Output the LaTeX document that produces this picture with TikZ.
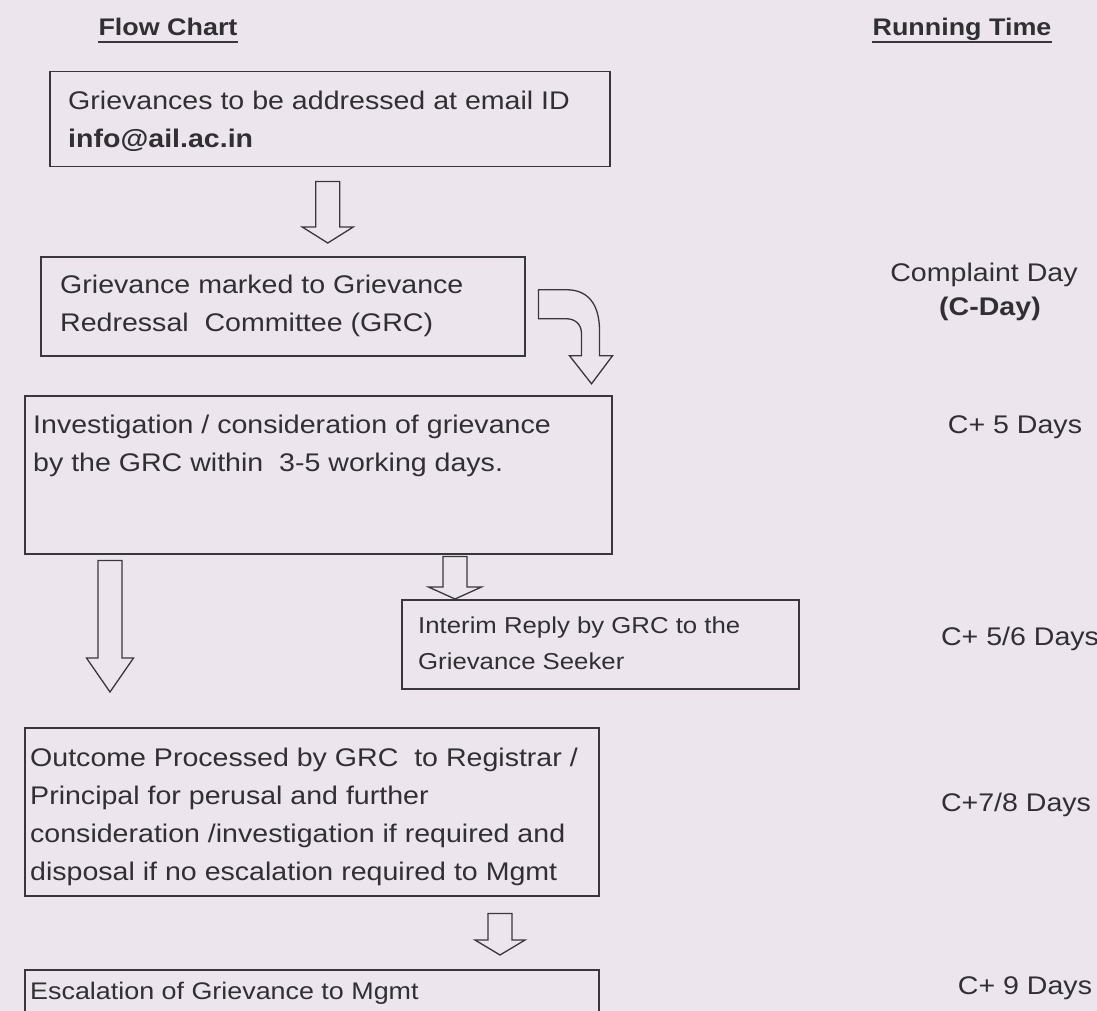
\documentclass[tikz,border=0pt]{standalone}
\usepackage{fontspec}
\setmainfont{Liberation Sans}[FakeStretch=1.12]
\usetikzlibrary{calc}
\definecolor{paper}{RGB}{236,229,237}
\definecolor{ink}{RGB}{58,55,60}
\definecolor{txtc}{RGB}{50,47,52}
\newcommand{\blockdown}[5]{\draw[arrowline] let \p1=(#1), \p2=(#2) in
  (\x1-#3,\y1) -- (\x1-#3,\y2+#5) -- (\x1-#4,\y2+#5) -- (\x1,\y2) --
  (\x1+#4,\y2+#5) -- (\x1+#3,\y2+#5) -- (\x1+#3,\y1) -- cycle;}
\begin{document}
\begin{tikzpicture}[x=1pt,y=-1pt,
  box/.style={draw=ink, line width=1.5pt, anchor=north west, inner sep=0pt},
  arrowline/.style={draw=ink, line width=1.3pt, line join=miter},
  txt/.style={text=txtc, anchor=base west, align=left, inner sep=0pt,
    font=\fontsize{25.5}{38}\selectfont},
  small/.style={txt, font=\fontsize{23}{36}\selectfont},
  rtxt/.style={text=txtc, anchor=base, inner sep=0pt, font=\fontsize{25.5}{34}\selectfont},
  title/.style={text=txtc, anchor=base, inner sep=0pt, font=\fontsize{24}{30}\selectfont\bfseries}]
\useasboundingbox (0,0) rectangle (1097,1011);
\clip (0,0) rectangle (1097,1011);
\fill[paper] (0,0) rectangle (1097,1011);

% titles
\node[title] (tflow) at (168,36) {Flow Chart};
\node[title] (trun) at (962,36) {Running Time};
\draw[ink, line width=2pt] ($(tflow.base west)+(0,6)$) -- ($(tflow.base east)+(0,6)$);
\draw[ink, line width=2pt] ($(trun.base west)+(0,6)$) -- ($(trun.base east)+(0,6)$);

% boxes
\node[box, minimum width=560pt, minimum height=95pt] (b1) at (49,71) {};
\node[box, minimum width=484pt, minimum height=99pt] (b2) at (40,256) {};
\node[box, minimum width=587pt, minimum height=158pt] (b3) at (24,395) {};
\node[box, minimum width=397pt, minimum height=89pt] (b4) at (401,599) {};
\node[box, minimum width=574pt, minimum height=168pt] (b5) at (24,727) {};
\node[box, minimum width=574pt, minimum height=80pt] (b6) at (24,969) {};

% box texts (anchor = baseline of the last line)
\node[txt] (x1) at (68,148) {Grievances to be addressed at email ID\\\textbf{info@ail.ac.in}};
\node[txt] (x2) at (60,331) {Grievance marked to Grievance\\Redressal\ \ Committee (GRC)};
\node[txt] (x3) at (33,471) {Investigation / consideration of grievance\\by the GRC within\ \ 3-5 working days.};
\node[small] (x4) at (418,669) {Interim Reply by GRC to the\\Grievance Seeker};
\node[txt, font=\fontsize{25.5}{37.7}\selectfont] (x5) at (30,880) {Outcome Processed by GRC\ \ to Registrar /\\Principal for perusal and further\\consideration /investigation if required and\\disposal if no escalation required to Mgmt};
\node[txt, font=\fontsize{24}{36}\selectfont] (x6) at (30,999) {Escalation of Grievance to Mgmt};

% running time
\node[rtxt] (r1) at (984,281) {Complaint Day};
\node[rtxt, font=\fontsize{25.5}{34}\selectfont\bfseries] (r1b) at (990,315) {(C-Day)};
\node[rtxt] (r2) at (1015,433) {C+ 5 Days};
\node[rtxt] (r3) at (1020,645) {C+ 5/6 Days};
\node[rtxt] (r4) at (1016,811) {C+7/8 Days};
\node[rtxt] (r5) at (1025,994) {C+ 9 Days};

% connectors (hollow block arrows)
\coordinate (a1s) at ($(b1.south)+(-2,14)$);
\coordinate (a1e) at ($(a1s |- b2.north)+(0,-13)$);
\blockdown{a1s}{a1e}{12pt}{25.5pt}{16pt}

\coordinate (cs) at ($(b2.east)+(13,-16.5)$);
\draw[arrowline] (cs) -- ++(28,0) .. controls +(22,0) and +(0,-26) .. ++(33,41)
  -- ++(0,25) -- ++(13,0) -- ++(-21,28) -- ++(-22,-28) -- ++(12,0) -- ++(0,-22)
  .. controls +(0,-10) and +(8,0) .. ++(-15,-15) -- ++(-28,0) -- cycle;

\coordinate (a2s) at ($(b3.south west)+(86,6)$);
\coordinate (a2e) at ($(a2s |- b5.north)+(0,-35)$);
\blockdown{a2s}{a2e}{12pt}{23.5pt}{34pt}

\coordinate (a3s) at ($(b3.south west)+(431,2)$);
\coordinate (a3e) at (a3s |- b4.north);
\blockdown{a3s}{a3e}{12pt}{26.5pt}{12pt}

\coordinate (a4s) at ($(b5.south west)+(476,17)$);
\coordinate (a4e) at ($(a4s |- b6.north)+(0,-14)$);
\blockdown{a4s}{a4e}{12pt}{25pt}{15pt}
\end{tikzpicture}
\end{document}
